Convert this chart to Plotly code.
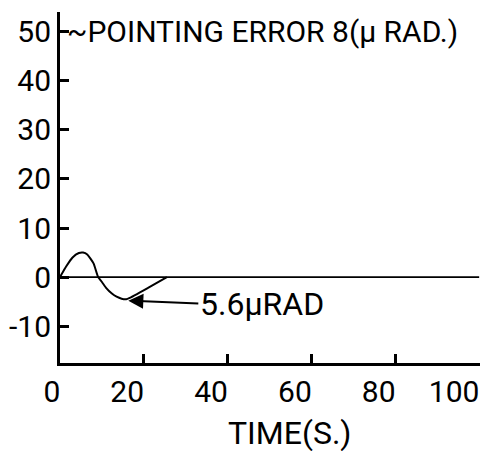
import plotly.graph_objects as go

time_s = [0, 1.5, 3, 4.5, 5.5, 6.5, 8, 9.1, 10, 11.1, 12.3, 13.5, 14.7, 15.8, 16.5, 21, 25.5]
error_urad = [0, 2.2, 4.0, 4.9, 5.0, 4.6, 2.8, 0, -1.0, -2.3, -3.3, -4.0, -4.4, -4.5, -4.3, -2.2, 0]
baseline_time = [0, 100]
baseline_value = [0, 0]

x_ticks = [0, 20, 40, 60, 80, 100]
x_tick_labels = ["0", "20", "40", "60", "80", "100"]
y_ticks = [-10, 0, 10, 20, 30, 40, 50]
y_tick_labels = ["-10", "0", "10", "20", "30", "40", "50"]

FONT = "Roboto, Liberation Sans, sans-serif"

fig = go.Figure()
fig.add_trace(go.Scatter(x=baseline_time, y=baseline_value, mode="lines",
                         line=dict(color="black", width=1.6),
                         showlegend=False, hoverinfo="skip"))
fig.add_trace(go.Scatter(x=time_s, y=error_urad, mode="lines",
                         line=dict(color="black", width=2, shape="spline", smoothing=0.5),
                         showlegend=False, hoverinfo="skip"))

fig.add_annotation(x=1.2, y=50, xref="x", yref="y", text="~POINTING ERROR 8(\u03bc RAD.)",
                   showarrow=False, xanchor="left", yanchor="middle",
                   font=dict(family=FONT, size=30, color="black"))
fig.add_annotation(x=16.3, y=-4.8, xref="x", yref="y", ax=33, ay=-5.4, axref="x", ayref="y",
                   text="5.6\u03bcRAD", showarrow=True, arrowhead=2, arrowsize=1.5, arrowwidth=2,
                   arrowcolor="black", xanchor="left", yanchor="middle",
                   font=dict(family=FONT, size=32, color="black"))
fig.add_annotation(x=54.8, y=-0.2, xref="x", yref="paper", text="TIME(S.)",
                   showarrow=False, xanchor="center", yanchor="middle",
                   font=dict(family=FONT, size=32, color="black"))

fig.update_layout(
    width=483, height=443,
    margin=dict(l=52, r=11, t=4, b=88, autoexpand=False),
    paper_bgcolor="white", plot_bgcolor="white",
    font=dict(family=FONT, size=30, color="black"),
    xaxis=dict(range=[0, 100.2], tickvals=x_ticks, ticktext=x_tick_labels, ticks="inside",
               ticklen=9, tickwidth=2.5, tickcolor="black", showline=True, linecolor="black",
               linewidth=3, showgrid=False, zeroline=False, automargin=False,
               ticklabelposition="outside left", ticklabelshift=3,
               ticklabeloverflow="allow", tickfont=dict(family=FONT, size=30)),
    yaxis=dict(range=[-17.5, 54], tickvals=y_ticks, ticktext=y_tick_labels, ticks="inside",
               ticklen=9, tickwidth=2.5, tickcolor="black", showline=True, linecolor="black",
               linewidth=3, showgrid=False, zeroline=False, automargin=False,
               tickfont=dict(family=FONT, size=30)),
)
fig.write_html("out.html")
